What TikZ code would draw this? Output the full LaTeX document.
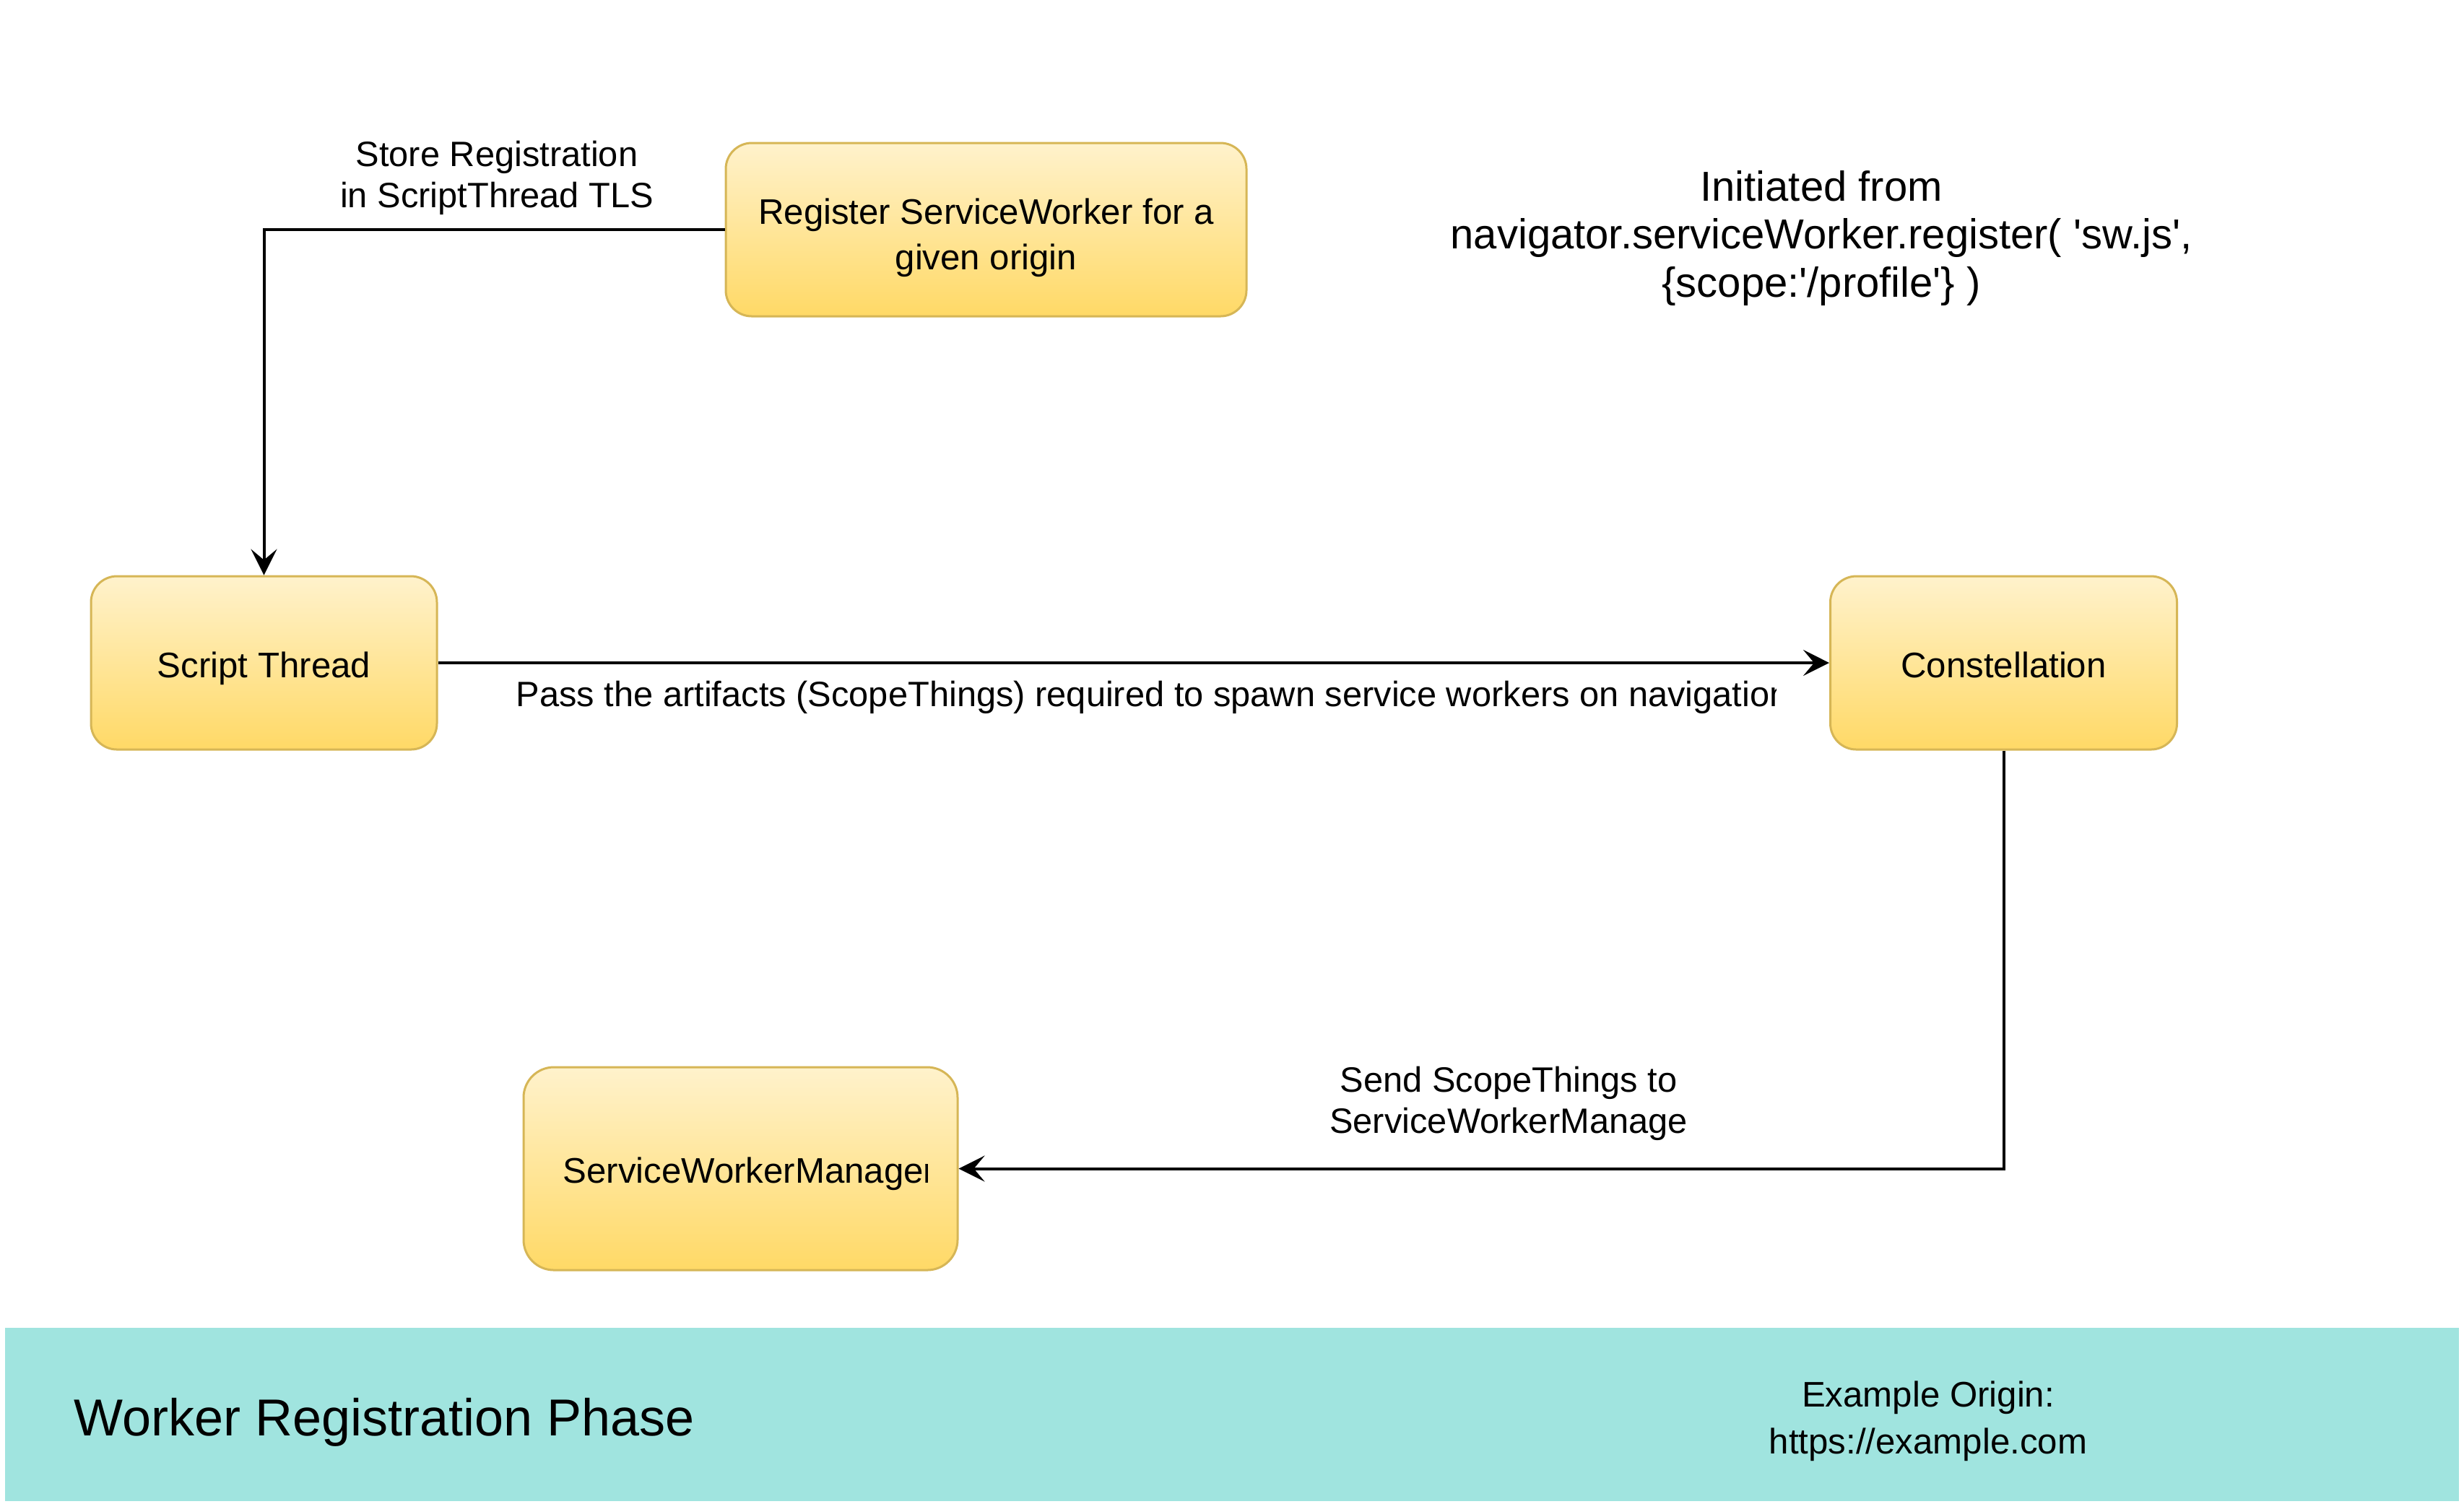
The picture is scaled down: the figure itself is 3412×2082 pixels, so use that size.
\documentclass[tikz,border=0pt]{standalone}
\usepackage{fontspec}
\setmainfont{Liberation Sans}[Ligatures=TeXOff]
\usetikzlibrary{arrows.meta}
\definecolor{boxstroke}{HTML}{D6B656}
\definecolor{boxtop}{HTML}{FFF2CC}
\definecolor{boxbot}{HTML}{FFD966}
\definecolor{bandfill}{HTML}{A0E4DF}
\begin{document}
\begin{tikzpicture}[x=0.25pt,y=-0.25pt,
  box/.style={draw=boxstroke, line width=0.75pt, top color=boxtop, bottom color=boxbot,
    rounded corners=9pt, inner sep=0pt, align=center,
    font=\fontsize{12.3pt}{15.75pt}\selectfont},
  arr/.style={draw=black, line width=1pt, -{Stealth[length=9pt,width=9pt,inset=3.75pt]}},
  elabel/.style={font=\fontsize{12.2pt}{14.25pt}\selectfont, align=center, inner sep=0pt},
  freetext/.style={align=center, inner sep=0pt}
]
\useasboundingbox (0,0) rectangle (3412,2082);
\fill[white] (0,0) rectangle (3412,2082);

% boxes
\node[box, minimum width=180.25pt, minimum height=60pt] (reg) at (1365.5,318)
  {\rule{0pt}{14.5pt}Register ServiceWorker for a\\given origin};
\node[box, minimum width=119.75pt, minimum height=60pt, text height=10pt, text depth=0pt]
  (st) at (365.5,918) {Script Thread};
\node[box, minimum width=120pt, minimum height=60pt, text height=10pt, text depth=0pt]
  (con) at (2774.5,918) {Constellation};
\node[box, minimum width=150.25pt, minimum height=70.25pt, rounded corners=10.5pt,
  path picture={
    \clip (path picture bounding box.south west) rectangle
          ([xshift=-10.5pt]path picture bounding box.north east);
    \node[anchor=base west, inner sep=0pt, minimum width=0pt, minimum height=0pt,
          text height=, text depth=, align=left,
          font=\fontsize{12.3pt}{15pt}\selectfont]
      at ([xshift=13.25pt, yshift=-4.875pt]path picture bounding box.west)
      {ServiceWorkerManager};
  }] (swm) at (1025.5,1618.5) {};

% connectors
\draw[arr] (reg.west) -| (st.north);
\draw[arr] (st.east) -- (con.west);
\draw[arr] (con.south) |- (swm.east);

% connector labels (base anchor = baseline of last line)
\node[elabel, anchor=base] (lblstore) at (688,287) {Store Registration\\in ScriptThread TLS};
\begin{scope}
  \clip (700,930) rectangle (2459,1010);
  \node[elabel, anchor=base west] (lblpass) at (714,978)
    {Pass the artifacts (ScopeThings) required to spawn service workers on navigation};
\end{scope}
\node[elabel, anchor=base] (lblsend) at (2089,1569) {Send ScopeThings to\\ServiceWorkerManage};

% note
\node[freetext, anchor=base, font=\fontsize{14.5pt}{16.6pt}\selectfont] (init) at (2522,411)
  {Initiated from\\navigator.serviceWorker.register( 'sw.js',\\\{scope:'/profile'\} )};

% bottom band
\node[fill=bandfill, draw=none, minimum width=849.6pt, minimum height=60pt, inner sep=0pt]
  (band) at (1705.75,1959) {};
\node[anchor=base west, inner sep=0pt, font=\fontsize{18pt}{21pt}\selectfont] (title)
  at (102,1988) {Worker Registration Phase};
\node[freetext, anchor=base, font=\fontsize{12.3pt}{16.25pt}\selectfont] (origin)
  at (2670,2013) {Example Origin:\\https://example.com};
\end{tikzpicture}
\end{document}
